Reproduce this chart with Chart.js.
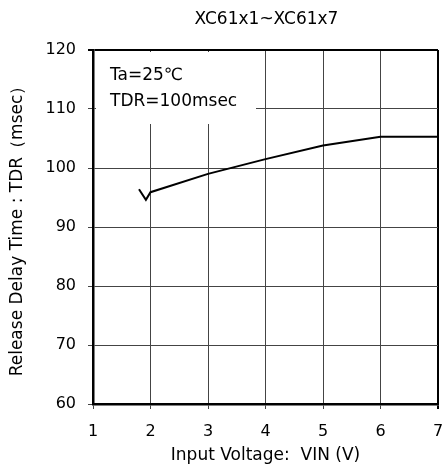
<!DOCTYPE html>
<html lang="en">
<head>
    <meta charset="UTF-8">
    <title>Release Delay Time vs Input Voltage</title>
    <script src="https://cdn.jsdelivr.net/npm/chart.js"></script>
    <style>
        html, body {
            margin: 0;
            padding: 0;
            background: #ffffff;
        }

        #wrap {
            width: 445px;
            height: 468px;
        }
    </style>
</head>
<body>

<div id="wrap">
    <canvas id="tdrChart" width="445" height="468"></canvas>
</div>

<script>
    // data
    var vin = [1.8, 1.92, 2, 3, 4, 5, 6, 7];
    var tdr = [96.4, 94.6, 95.9, 99.0, 101.5, 103.8, 105.3, 105.3];
    var xTicks = [1, 2, 3, 4, 5, 6, 7];
    var yTicks = [60, 70, 80, 90, 100, 110, 120];
    var titleText = 'XC61x1~XC61x7';
    var noteLines = ['Ta=25\u2103', 'TDR=100msec'];

    var FONT = '"DejaVu Sans", "Liberation Sans", sans-serif';

    // title over the plot and the white note box in the upper left
    var textPlugin = {
        id: 'textPlugin',
        beforeDatasetsDraw: function (chart) {
            var ctx = chart.ctx;
            var a = chart.chartArea;
            ctx.save();
            ctx.fillStyle = '#ffffff';
            ctx.fillRect(a.left + 3, a.top + 2, 160, 72);
            ctx.fillStyle = '#000000';
            ctx.font = '17px ' + FONT;
            ctx.textBaseline = 'middle';
            ctx.textAlign = 'left';
            ctx.fillText(noteLines[0], a.left + 17, a.top + 26);
            ctx.fillText(noteLines[1], a.left + 17, a.top + 52);
            ctx.restore();
        },
        afterDraw: function (chart) {
            var ctx = chart.ctx;
            var a = chart.chartArea;
            ctx.save();
            ctx.fillStyle = '#000000';
            ctx.font = '17px ' + FONT;
            ctx.textAlign = 'center';
            ctx.textBaseline = 'middle';
            ctx.fillText(titleText, (a.left + a.right) / 2 + 1, 20);
            ctx.restore();
        }
    };

    function edgeColor(ctx, last) {
        return ctx.index === last ? '#000000' : '#444444';
    }

    var chart = new Chart(document.getElementById('tdrChart').getContext('2d'), {
        type: 'scatter',
        data: {
            datasets: [{
                data: vin.map(function (v, i) { return {x: v, y: tdr[i]}; }),
                showLine: true,
                borderColor: '#000000',
                borderWidth: 2,
                pointRadius: 0,
                tension: 0,
                fill: false
            }]
        },
        options: {
            responsive: false,
            animation: false,
            devicePixelRatio: 1,
            layout: {
                padding: {top: 50, right: 7, left: 0, bottom: 0}
            },
            plugins: {
                legend: {display: false},
                tooltip: {enabled: false}
            },
            scales: {
                x: {
                    type: 'linear',
                    min: 1,
                    max: 7,
                    afterBuildTicks: function (scale) {
                        scale.ticks = xTicks.map(function (v) { return {value: v}; });
                    },
                    afterFit: function (scale) {
                        scale.height = 64;
                        // let the last label hang past the plot edge
                        scale.paddingLeft = 0;
                        scale.paddingRight = 0;
                    },
                    border: {color: '#000000', width: 2.5},
                    grid: {
                        color: function (ctx) { return edgeColor(ctx, xTicks.length - 1); },
                        lineWidth: function (ctx) { return ctx.index === xTicks.length - 1 ? 2 : 1; },
                        tickLength: 5,
                        drawTicks: true
                    },
                    ticks: {
                        color: '#000000',
                        font: {family: FONT, size: 16},
                        padding: 13,
                        maxRotation: 0
                    },
                    title: {
                        display: true,
                        text: 'Input Voltage:  VIN (V)',
                        color: '#000000',
                        font: {family: FONT, size: 17},
                        padding: {top: 2, bottom: 2}
                    }
                },
                y: {
                    min: 60,
                    max: 120,
                    afterBuildTicks: function (scale) {
                        scale.ticks = yTicks.map(function (v) { return {value: v}; });
                    },
                    afterFit: function (scale) {
                        scale.width = 93;
                        scale.paddingTop = 0;
                        scale.paddingBottom = 0;
                    },
                    border: {color: '#000000', width: 2.5},
                    grid: {
                        color: function (ctx) { return edgeColor(ctx, yTicks.length - 1); },
                        lineWidth: function (ctx) { return ctx.index === yTicks.length - 1 ? 2 : 1; },
                        tickLength: 5,
                        drawTicks: true
                    },
                    ticks: {
                        color: '#000000',
                        font: {family: FONT, size: 16},
                        padding: 12
                    },
                    title: {
                        display: true,
                        text: 'Release Delay Time : TDR\uff08msec\uff09',
                        color: '#000000',
                        font: {family: FONT, size: 17},
                        padding: {top: 7, bottom: 7}
                    }
                }
            }
        },
        plugins: [textPlugin]
    });
</script>

</body>
</html>
